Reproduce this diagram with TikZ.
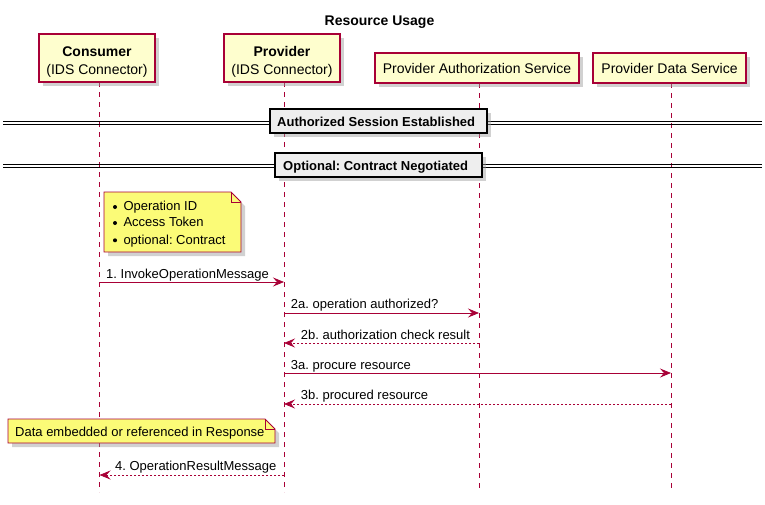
\documentclass[tikz,border=0pt]{standalone}
\usepackage{fontspec}
\setmainfont{Liberation Sans}
\usetikzlibrary{arrows.meta,shadows}
\frenchspacing
\definecolor{pumlred}{HTML}{A80036}
\definecolor{pumlfill}{HTML}{FEFECE}
\definecolor{notefill}{HTML}{FBFB77}
\definecolor{divfill}{HTML}{EEEEEE}
\tikzset{
  shad/.style={drop shadow={shadow xshift=4pt,shadow yshift=-4pt,fill=black!40,opacity=0.45}},
  part/.style={draw=pumlred,fill=pumlfill,line width=1.1pt,shad,inner sep=0pt},
  parttext/.style={inner sep=0pt,anchor=base,font=\fontsize{14}{18}\selectfont},
  life/.style={draw=pumlred,line width=0.8pt,dash pattern=on 5pt off 5pt},
  msg/.style={draw=pumlred,line width=0.8pt,-{Stealth[length=11pt,width=9pt,inset=4pt]}},
  reply/.style={msg,dash pattern=on 2pt off 2pt},
  lbl/.style={font=\fontsize{13}{15}\selectfont,inner sep=0pt,anchor=base west},
  divbox/.style={draw=black,fill=divfill,line width=1.3pt,shad,inner sep=0pt},
  divtext/.style={inner sep=0pt,anchor=base west,font=\bfseries\fontsize{13}{15}\selectfont},
  divline/.style={draw=black,line width=0.8pt},
  notebody/.style={draw=pumlred,fill=notefill,line width=0.8pt},
  noteshadow/.style={fill=black!40,opacity=0.45},
  notetext/.style={font=\fontsize{13}{15}\selectfont,inner sep=0pt,anchor=base west},
  bullet/.style={circle,fill=black,inner sep=0pt,minimum size=4pt},
}
\begin{document}
\begin{tikzpicture}[x=1pt,y=-1pt]
\useasboundingbox (0,0) rectangle (765,504);

% title
\node[font=\bfseries\fontsize{14}{17}\selectfont,inner sep=0pt,anchor=base] (title) at (379.5,25) {Resource Usage};

% lifelines
\coordinate (l1t) at (99.5,82);  \coordinate (l1b) at (99.5,492);
\coordinate (l2t) at (284,82);   \coordinate (l2b) at (284,492);
\coordinate (l3t) at (479,83);   \coordinate (l3b) at (479,492);
\coordinate (l4t) at (671,83);   \coordinate (l4b) at (671,492);
\draw[life] (l1t) -- (l1b);
\draw[life] (l2t) -- (l2b);
\draw[life] (l3t) -- (l3b);
\draw[life] (l4t) -- (l4b);

% participants
\node[part,minimum width=116pt,minimum height=48pt] (cons) at (97,58) {};
\node[parttext] (consA) at (97,56) {\textbf{Consumer}};
\node[parttext] (consB) at (97,74.5) {(IDS Connector)};
\node[part,minimum width=116pt,minimum height=48pt] (prov) at (282,58) {};
\node[parttext] (provA) at (282,56) {\textbf{Provider}};
\node[parttext] (provB) at (282,74.5) {(IDS Connector)};
\node[part,minimum width=204pt,minimum height=30pt] (auth) at (477,68) {};
\node[parttext] (authA) at (477,73.5) {Provider Authorization Service};
\node[part,minimum width=153pt,minimum height=30pt] (data) at (669.5,68) {};
\node[parttext] (dataA) at (669.5,73.5) {Provider Data Service};

% divider 1
\coordinate (d1a) at (3,121);   \coordinate (d1b) at (762,121);
\coordinate (d1c) at (3,124.5); \coordinate (d1d) at (762,124.5);
\draw[divline] (d1a) -- (d1b);
\draw[divline] (d1c) -- (d1d);
\node[divbox,minimum width=217pt,minimum height=24pt] (div1) at (378.5,121) {};
\node[divtext] (div1t) at (277,126) {Authorized Session Established};

% divider 2
\coordinate (d2a) at (3,164);   \coordinate (d2b) at (762,164);
\coordinate (d2c) at (3,167.5); \coordinate (d2d) at (762,167.5);
\draw[divline] (d2a) -- (d2b);
\draw[divline] (d2c) -- (d2d);
\node[divbox,minimum width=207pt,minimum height=24pt] (div2) at (378.5,165) {};
\node[divtext] (div2t) at (283,170.5) {Optional: Contract Negotiated};

% note 1
\fill[noteshadow] (108,196) -- (235,196) -- (245,206) -- (245,256) -- (108,256) -- cycle;
\draw[notebody] (104,192) -- (231,192) -- (241,202) -- (241,252) -- (104,252) -- cycle;
\draw[draw=pumlred,line width=0.8pt] (231,192) -- (231,202) -- (241,202);
\node[bullet] (b1) at (115,207) {};
\node[bullet] (b2) at (115,223) {};
\node[bullet] (b3) at (115,240.3) {};
\node[notetext] (n1a) at (123.3,210.7) {Operation ID};
\node[notetext] (n1b) at (123.3,226.7) {Access Token};
\node[notetext] (n1c) at (123.3,244) {optional: Contract};

% messages
\coordinate (m1s) at (99.5,282); \coordinate (m1e) at (284,282);
\draw[msg] (m1s) -- (m1e);
\node[lbl] (t1) at (106,278) {1. InvokeOperationMessage};

\coordinate (m2s) at (284,313); \coordinate (m2e) at (479,313);
\draw[msg] (m2s) -- (m2e);
\node[lbl] (t2) at (290.7,308.5) {2a. operation authorized?};

\coordinate (m3s) at (479,343); \coordinate (m3e) at (284,343);
\draw[reply] (m3s) -- (m3e);
\node[lbl] (t3) at (300.7,339) {2b. authorization check result};

\coordinate (m4s) at (284,373); \coordinate (m4e) at (671,373);
\draw[msg] (m4s) -- (m4e);
\node[lbl] (t4) at (290.7,369) {3a. procure resource};

\coordinate (m5s) at (671,404); \coordinate (m5e) at (284,404);
\draw[reply] (m5s) -- (m5e);
\node[lbl] (t5) at (300.7,399) {3b. procured resource};

% note 2
\fill[noteshadow] (12,423) -- (269,423) -- (279,433) -- (279,447) -- (12,447) -- cycle;
\draw[notebody] (8,419) -- (265,419) -- (275,429) -- (275,443) -- (8,443) -- cycle;
\draw[draw=pumlred,line width=0.8pt] (265,419) -- (265,429) -- (275,429);
\node[notetext] (n2) at (15,436) {Data embedded or referenced in Response};

\coordinate (m6s) at (284,475); \coordinate (m6e) at (99.5,475);
\draw[reply] (m6s) -- (m6e);
\node[lbl,anchor=base east] (t6) at (276.5,470) {4. OperationResultMessage};
\end{tikzpicture}
\end{document}
